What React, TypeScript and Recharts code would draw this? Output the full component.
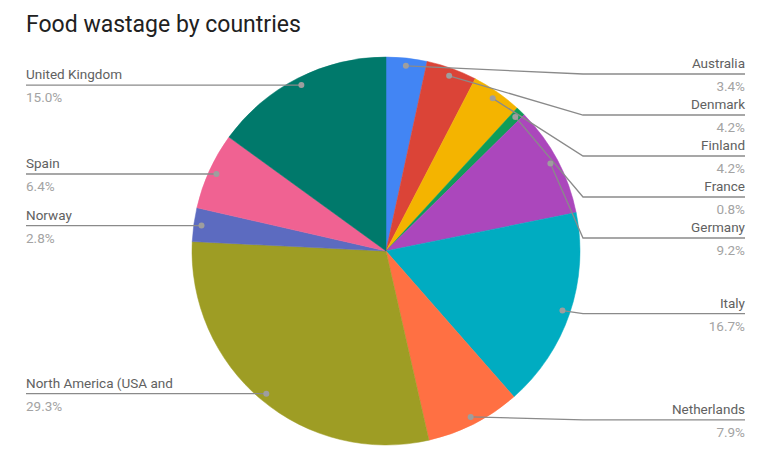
import React, { useMemo } from "react";
import { PieChart, Pie, Cell } from "recharts";

const countries = [
  "Australia",
  "Denmark",
  "Finland",
  "France",
  "Germany",
  "Italy",
  "Netherlands",
  "North America (USA and",
  "Norway",
  "Spain",
  "United Kingdom",
];
const wastage = [3.4, 4.2, 4.2, 0.8, 9.2, 16.7, 7.9, 29.3, 2.8, 6.4, 15.0];
const colors = [
  "#4285F4",
  "#DB4437",
  "#F4B400",
  "#0F9D58",
  "#AB47BC",
  "#00ACC1",
  "#FF7043",
  "#9E9D24",
  "#5C6BC0",
  "#F06292",
  "#00796B",
];

const W = 768;
const H = 462;
const CX = 386;
const CY = 251;
const R = 194;
const DOT_R = R * 0.96;
const LEFT_X = 26;
const RIGHT_X = 745;
const GAP = 41;
const MIN_Y = 74;
const FONT = "Roboto, 'Noto Sans', sans-serif";

const RAD = Math.PI / 180;

export default function App() {
  const data = useMemo(
    () => countries.map((name, i) => ({ name, value: wastage[i] })),
    []
  );

  // label y positions, pushed apart so they don't collide
  const layout = useMemo(() => {
    const total = wastage.reduce((a, b) => a + b, 0);
    let acc = 0;
    const items = wastage.map((v, i) => {
      const mid = 90 - ((acc + v / 2) / total) * 360;
      acc += v;
      const x = CX + Math.cos(-mid * RAD) * DOT_R;
      const y = CY + Math.sin(-mid * RAD) * DOT_R;
      return { i, x, y, right: x > CX, ly: y };
    });
    [true, false].forEach((side) => {
      const s = items.filter((d) => d.right === side).sort((a, b) => a.y - b.y);
      let prev = -Infinity;
      s.forEach((d) => {
        d.ly = Math.max(d.y + (side ? 3 : 0), prev + GAP, MIN_Y);
        prev = d.ly;
      });
    });
    const out: { x: number; y: number; right: boolean; ly: number }[] = [];
    items.forEach((d) => (out[d.i] = d));
    return out;
  }, []);

  const renderLabel = (props: any) => {
    const { cx, cy, midAngle, index, name, value } = props;
    const L = layout[index];
    const dx = cx + Math.cos(-midAngle * RAD) * DOT_R;
    const dy = cy + Math.sin(-midAngle * RAD) * DOT_R;
    const ly = L.ly;
    const elbow = L.right ? cx + R + 3 : cx - R - 3;
    const end = L.right ? RIGHT_X : LEFT_X;
    return (
      <g key={`lbl-${index}`}>
        <polyline
          points={`${dx},${dy} ${elbow},${ly} ${end},${ly}`}
          fill="none"
          stroke="#8a8a8a"
          strokeWidth={1.3}
        />
        <circle cx={dx} cy={dy} r={3} fill="#9e9e9e" />
        <text
          x={end}
          y={ly - 6}
          textAnchor={L.right ? "end" : "start"}
          fontFamily={FONT}
          fontSize={13.5}
          fill="#616161"
        >
          {name}
        </text>
        <text
          x={end}
          y={ly + 17}
          textAnchor={L.right ? "end" : "start"}
          fontFamily={FONT}
          fontSize={13.5}
          fill="#a3a3a3"
        >
          {value.toFixed(1)}%
        </text>
      </g>
    );
  };

  return (
    <div style={{ position: "absolute", left: 0, top: 0, width: W, height: H, background: "#fff" }}>
      <div
        style={{
          position: "absolute",
          left: LEFT_X,
          top: 13,
          fontFamily: FONT,
          fontSize: 23,
          lineHeight: "23px",
          color: "#212121",
        }}
      >
        Food wastage by countries
      </div>
      <PieChart width={W} height={H} margin={{ top: 0, right: 0, bottom: 0, left: 0 }}>
        <Pie
          data={data}
          dataKey="value"
          nameKey="name"
          cx={CX}
          cy={CY}
          outerRadius={R}
          startAngle={90}
          endAngle={-270}
          label={renderLabel}
          labelLine={false}
          isAnimationActive={false}
        >
          {data.map((d, i) => (
            <Cell key={d.name} fill={colors[i]} stroke={colors[i]} strokeWidth={0.5} />
          ))}
        </Pie>
      </PieChart>
    </div>
  );
}
